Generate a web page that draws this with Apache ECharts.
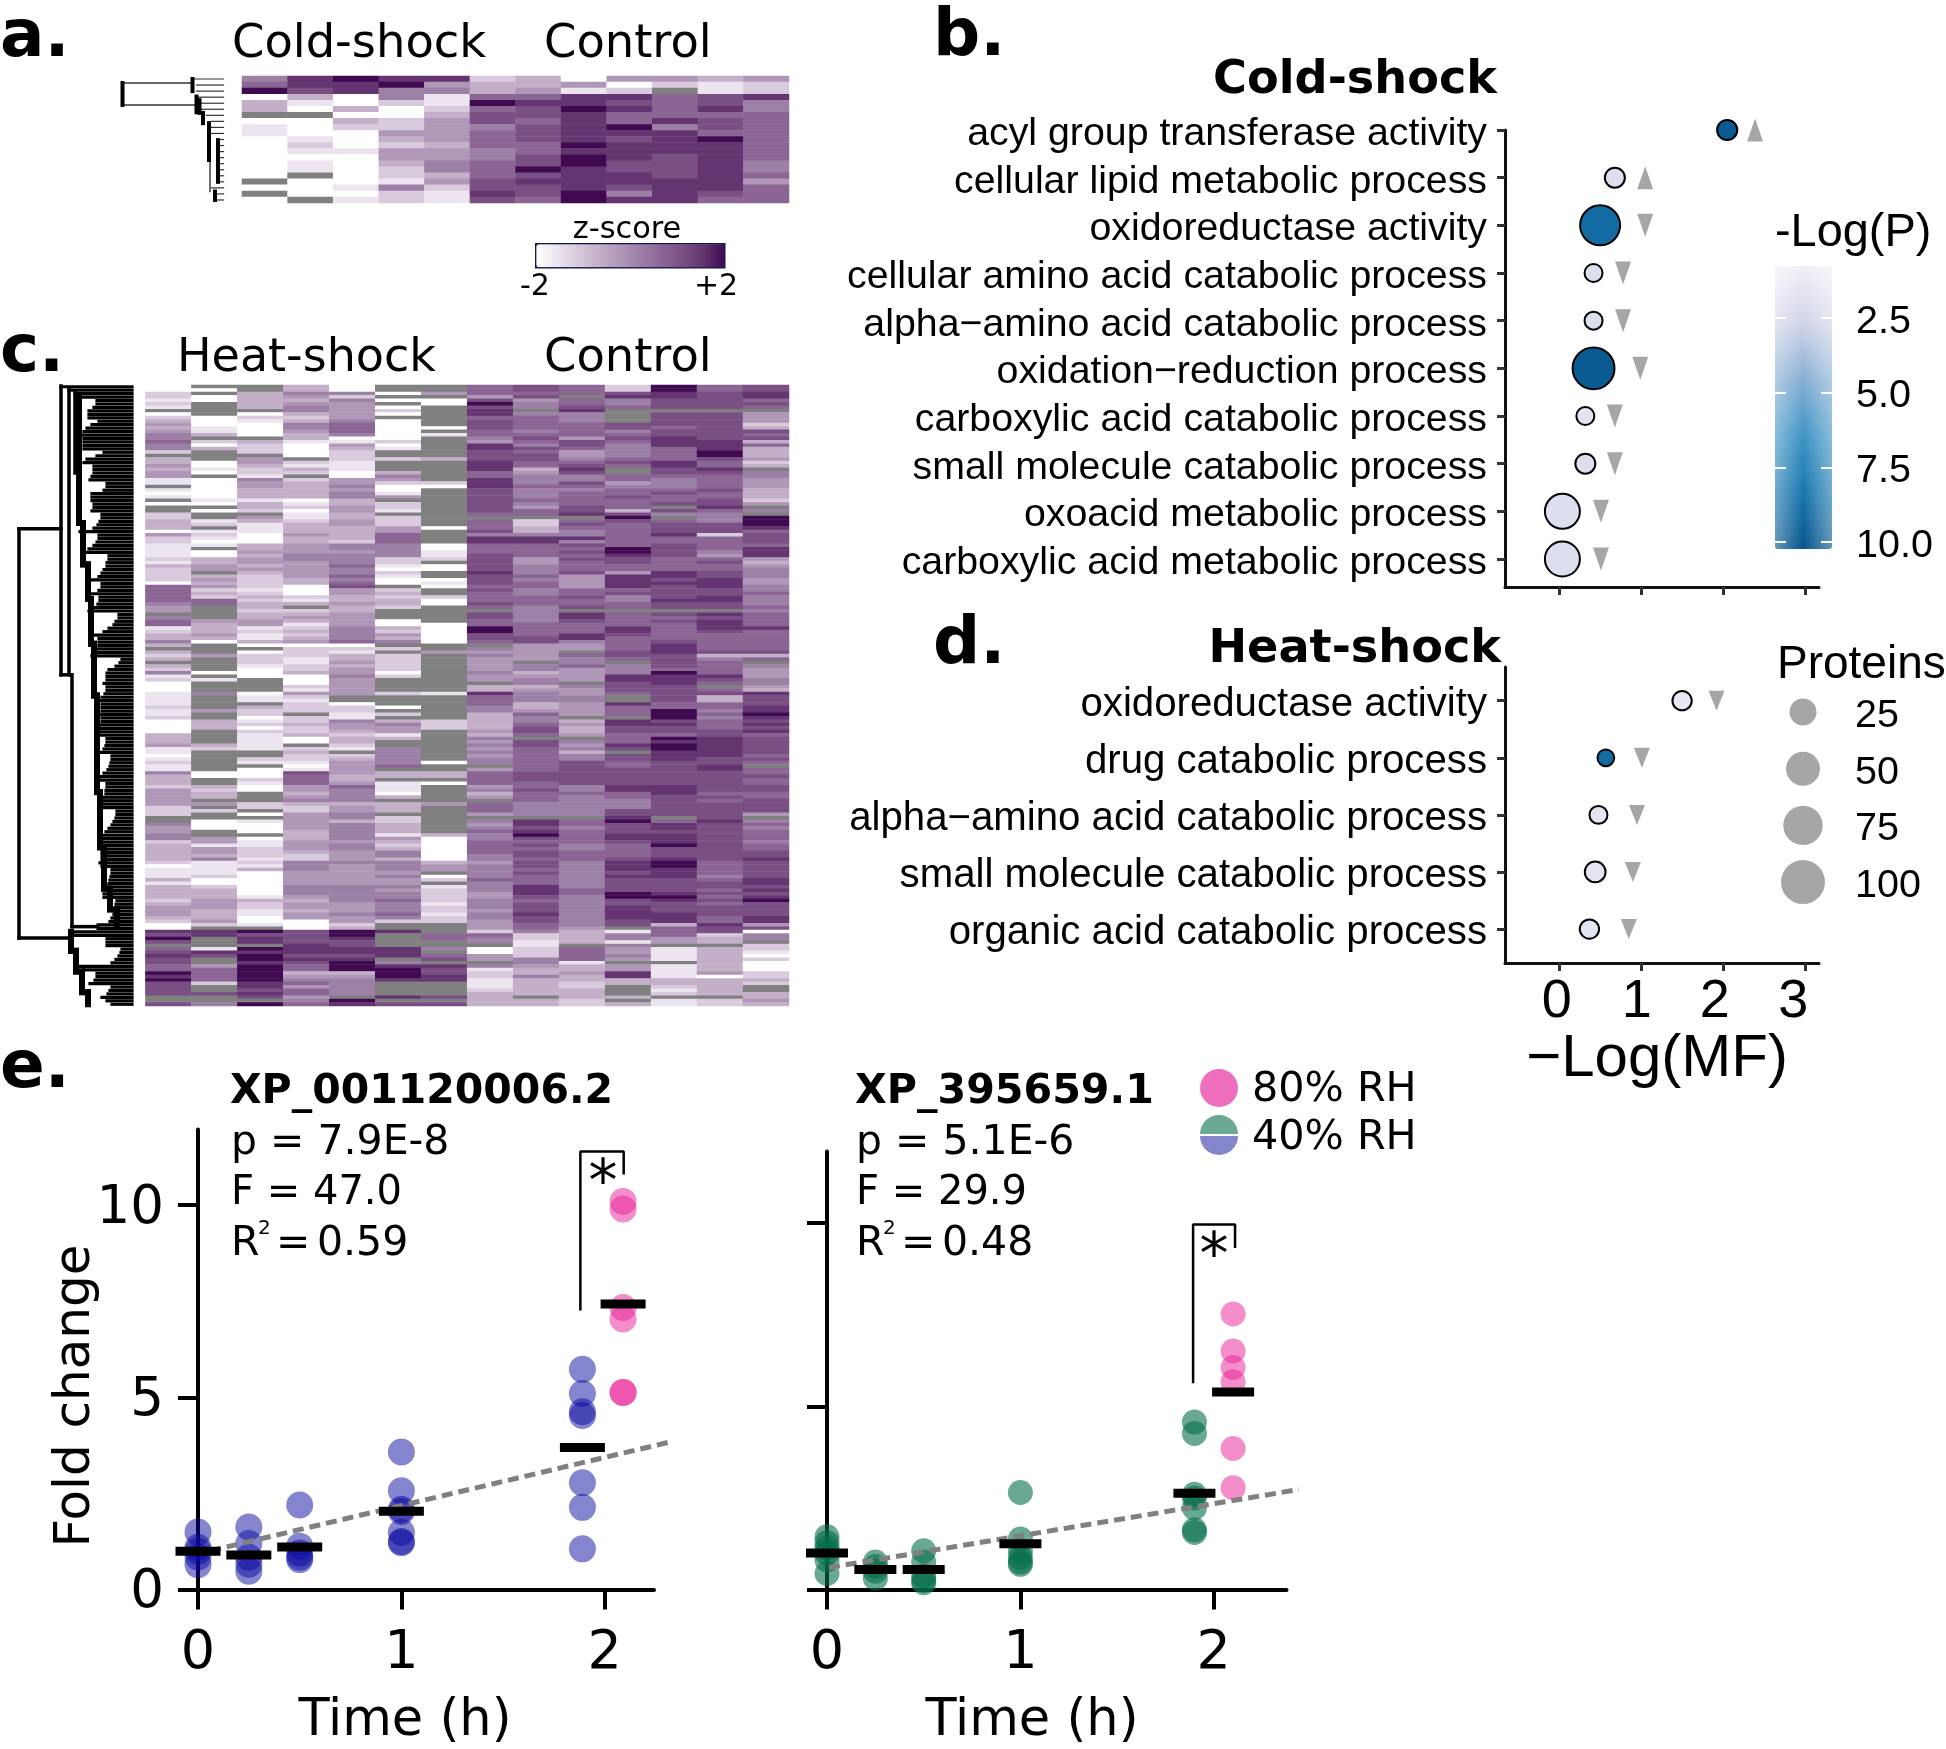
<!DOCTYPE html>
<html><head><meta charset="utf-8">
<script src="https://cdn.jsdelivr.net/npm/echarts@6/dist/echarts.min.js"></script>
<style>html,body{margin:0;padding:0;background:#fff}#c{width:1946px;height:1749px}</style></head>
<body><div id="c"></div>
<script>
// Heatmap levels: 0 = z -2 ... 9 = z +2, '.' = missing
const heatARows = [
"589882304434",
"688943340212",
"978553412.12",
"030516688678",
"310219887675",
"303026798685",
"..0037786666",
"003247686876",
"102245789576",
"100446788866",
"010346787896",
"020236698886",
"011445688886",
"000445798786",
"010356797785",
"010256987785",
"0.0236788786",
".00147888884",
"001527787886",
".00218795876",
"0.1217698866"];
const heatC = [
["00221 21.02 34345 56552 .3343 4411. 101.0 ..223 33042","21111 21322 22066 66654 4.566 12335 3.323 .3251 20001","11121 12000 03334 11012 11533 32444 44222 ..544 55233","33320 11131 33332 34443 20087 97.67 87766 98977 77..7"],
[".0.00 ....0 00113 .203. ..001 0.000 00010 .0..1 2.121","01.00 3344. 34342 3266. ...43 33430 ...4. ...0. 1...5","....4 ..333 ....3 2.... ..00. .3233 .4.2. .000. .4414","43511 11200 23334 44333 42.88 ...18 7..46 6662. .7..5"],
["..333 33.02 10000 .3222 .4432 21544 33313 32.43 11100","03343 44343 22221 23233 23344 12113 0.022 21000 ....0","11.32 20120 21111 1..21 .0002 100.. .22.0 .1000 .0112","22121 30000 00013 22110 01.97 88.98 99899 99988 787.9"],
["33543 45532 35543 31000 0.213 2.233 33301 20112 33343","34445 54444 43300 0213. 23431 23234 02221 12230 00214","21222 .2232 2300. 23221 01766 64434 53224 44443 33444","32255 54444 55543 44344 00077 77888 78766 34564 66456"],
["00525 44444 56665 01432 22111 00445 45533 44334 43333","25545 55655 65674 43343 34444 55556 02133 43445 44444","..022 11544 32332 1.234 44433 46555 53445 53555 55455","44454 44444 55555 44454 42399 87788 78999 34555 55.98"],
["..0.0 .020. 00000 0201. .2... 35420 014.2 21.22 24466","65555 22102 100.2 32332 ...00 32435 .2.22 22202 ....2","...0. 2.354 413.. 55555 6.33. 11103 .333. 22333 14323","55355 54544 54556 55565 2..8. ...88 8.589 998.. ..8.7"],
["..4.0 0.... ..0.1 ..... .3... ...20 ..... ..... .0...",".0011 2.00. .010. .200. ....0 00000 ..4.. ..... ....1","..... ..222 ..... ....0 ..33. 0.... .4... ..... 30000","00034 4.02. 12222 12212 2...6 6..5. 67.87 788.. ..7.7"],
["66647 97886 77766 54887 77888 66888 77777 776.6 66758","86667 77778 77767 66676 .7766 99776 .5454 44454 4.338","66655 33333 43545 45455 .4666 64534 .6664 .5456 55666","65545 55565 55445 55455 44426 55.00 44.51 22111 23333"],
["77674 55.56 66656 76576 77663 45556 55565 466.2 23358","86666 44555 65665 56665 55556 66677 44444 .5534 55345","55334 65567 76.77 66666 66777 66766 65555 .8878 97676","77677 67666 88876 77787 76652 21122 25543 35333 33.33"],
["666.6 67855 56666 47764 45678 75576 56666 778.6 76558","57676 76667 44446 67667 .8876 66885 44.65 56444 4.544","55444 4.343 34.54 53557 77777 75565 55555 .6656 66655","66655 55555 56655 55555 55433 33.66 66133 43322 33322"],
["22785 56... .7756 76555 5676. .6645 66766 63797 66666","66998 77664 88886 75566 .6666 88766 66776 .5558 87776","..866 6.887 76668 7.776 67777 78866 55577 89777 88766","66788 87877 77997 78888 77.15 51544 54.44 8833. ..3.3"],
["99887 77.77 77677 88866 66887 76555 67667 .75.6 77786","67777 66668 87877 77877 .7676 66667 88877 77698 88777","77669 99787 76989 98887 77777 78887 77777 .6887 88897","77899 88877 77898 77788 83666 44.11 11.11 11332 12.11"],
["66777 77.77 77777 78889 97668 76666 76677 86555 77726","66654 67667 78887 78877 .8788 87666 66735 66668 76.67","33665 65666 77888 88877 88777 77767 67777 78777 77777","77766 66567 76767 67776 68772 33.33 33333 40333 33.22"],
["77886 76.44 42376 73633 3423. 55444 33324 .5.99 98677","76888 43455 54455 65556 56666 86666 66736 .5444 55438","77788 98787 86777 77676 .6676 67766 77774 .5656 66566","77877 77788 78789 77778 84705 5.221 02000 2232. .3343"]
];
const heatPalette = ['#ffffff','#ece4ee','#d9cbdd','#c4afc9','#b097b8','#9d80a6','#8b6695','#7a5084','#643570','#400a50'];
// Dendrogram leaf heights (distance at which each row joins)
const leafA = [30,27,27,27,24.5,22,17,12,12,12,7,7,7,7,7,7,4,4,12,9,7];
const leafC = [71,63,57,53,35,35,38,43,43,43,33,40,45,48,53,48,48,48,48,28,35,45,48,38,38,38,40,42,25,25,28,40,40,40,38,38,40,30,30,32,34,38,52,33,33,35,38,43,50,23,23,25,25,28,30,33,45,30,30,33,43,32,32,34,38,43,13,13,16,18,23,28,40,33,33,33,35,38,40,10,12,16,23,25,25,25,28,25,25,27,30,35,30,30,30,33,30,30,32,34,35,35,25,25,26,28,32,20,20,21,22,24,28,33,34,25,25,26,26,28,28,30,33,15,15,16,18,20,23,26,32,32,30,30,30,30,30,30,32,30,20,20,21,22,23,24,26,28,28,15,16,16,18,18,20,22,34,34,60,58,25,25,25,10,11,13,16,20,52,48,35,35,37,42,20,22,24,30,25,20];
const treeAThin = [[101,1.16,31,1.16],[101,4.8,27,4.8],[13.5,13.9,13.5,19.1]];
const treeAThick = [[101,1.16,101,4.8],[31,0.5,31,2.5],[27,3.4,27,6],[24,4,24,6.1],[20.5,6.1,20.5,7.8],[14.5,7.8,14.5,13.9],[5.5,10.6,5.5,17.5],[8.5,19.1,8.5,20.5]];
const treeC = [[113,41.7,113,160.3],[113,41.7,71,41.7],[113,160.3,61,160.3],[71,0.3,71,84],[71,84,63,84],[63,1.2,63,84],[60,84,60,157],[60,157,34,157],[57,2.3,57,25.5]];
const treeCSpine = [[53,3,53,40],[53,40,49,40],[49,40,49,52],[49,52,44,52],[44,52,44,62],[44,62,41,62],[41,62,41,75],[41,75,38,75],[38,75,38,90],[38,90,35,90],[35,90,35,118],[35,118,32,118],[32,118,32,134],[32,134,28,134],[28,134,28,146],[28,146,22,146],[22,146,22,152],[22,152,15,152],[15,152,15,157],[61,158.5,61,164],[61,164,56,164],[56,164,56,170],[56,170,50,170],[50,170,50,176],[50,176,44,176],[44,176,44,179.5]];

const catsB = ["acyl group transferase activity","cellular lipid metabolic process","oxidoreductase activity","cellular amino acid catabolic process","alpha\u2212amino acid catabolic process","oxidation\u2212reduction process","carboxylic acid catabolic process","small molecule catabolic process","oxoacid metabolic process","carboxylic acid metabolic process"];
const mfB = [2.05,0.68,0.5,0.42,0.42,0.42,0.32,0.32,0.04,0.04];
const logPB = [9.9,2,9,1.9,1.9,9.9,1.6,2,2,2];
const proteinsB = [9,8.6,78,5.5,5.5,88,5.5,8.6,54,54];
const triB = [2.39,1.05,1.05,0.78,0.78,0.99,0.68,0.68,0.51,0.51];
const triUpB = [true,true,false,false,false,false,false,false,false,false];
const catsD = ["oxidoreductase activity","drug catabolic process","alpha\u2212amino acid catabolic process","small molecule catabolic process","organic acid catabolic process"];
const mfD = [1.5,0.57,0.48,0.44,0.37];
const logPD = [1.3,9,1.5,1.6,1.6];
const proteinsD = [7.5,4,5.5,10,7.5];
const triD = [1.92,1.01,0.95,0.9,0.85];
const sizeLegend = [25,50,75,100];

const blueE = [[0,1.5],[0,1.1],[0,1.0],[0,0.85],[0,0.65],[0.25,1.63],[0.25,1.2],[0.25,0.84],[0.25,0.66],[0.25,0.48],[0.5,2.2],[0.5,1.13],[0.5,0.95],[0.5,0.84],[0.5,0.78],[1,3.58],[1,2.57],[1,2.09],[1,2.03],[1,1.49],[1,1.25],[1,1.22],[1.89,5.73],[1.89,5.1],[1.89,4.63],[1.89,4.53],[1.89,2.78],[1.89,2.14],[1.89,1.06]];
const pinkL = [[2.09,10.1],[2.09,9.9],[2.09,7.34],[2.09,7.04],[2.09,5.13],[2.09,5.13]];
const meansL = [[0,1.0],[0.25,0.9],[0.5,1.11],[1,2.04],[1.89,3.7],[2.09,7.43]];
const fitL = [[0.06,1.01,2.32,3.84]];
const bracketL = [[1.88,7.26],[1.88,11.4],[2.093,11.4],[2.093,10.8]];
const greenE = [[0,1.44],[0,1.28],[0,1.13],[0,1.0],[0,0.81],[0,0.44],[0.25,0.75],[0.25,0.63],[0.25,0.5],[0.25,0.31],[0.5,1.06],[0.5,0.75],[0.5,0.38],[0.5,0.25],[0.5,0.19],[1,2.65],[1,1.38],[1,1.06],[1,0.88],[1,0.75],[1,0.69],[1.9,4.57],[1.9,4.26],[1.9,2.6],[1.9,2.5],[1.9,2.23],[1.9,1.63],[1.9,1.56]];
const pinkR = [[2.1,7.52],[2.1,6.51],[2.1,6.06],[2.1,5.67],[2.1,3.85],[2.1,2.78]];
const meansR = [[0,1.0],[0.25,0.55],[0.5,0.55],[1,1.25],[1.9,2.63],[2.1,5.39]];
const fitR = [[0.01,0.6,2.44,2.73]];
const bracketR = [[1.893,5.63],[1.893,9.96],[2.11,9.96],[2.11,9.32]];

const DJ = '"DejaVu Sans"', LB = '"Liberation Sans"';
const lvl = ch => ch === '.' ? -3 : -1.995 + (+ch) * 3.995 / 9;   // -3 = missing, outside the scale range

const dataA = [];
heatARows.forEach((row, r) => row.split('').forEach((ch, c) => dataA.push([c, r, lvl(ch)])));
const dataC = [];
heatC.forEach((parts, c) => parts.join('').replace(/ /g, '').split('').forEach((ch, r) => dataC.push([c, r, lvl(ch)])));

function seg(gi, segs, width, color, dash, z) {
  return { type: 'custom', xAxisIndex: gi, yAxisIndex: gi, data: segs, encode: { x: [0, 2], y: [1, 3] }, silent: true, clip: false, z: z || 2,
    renderItem: (p, api) => { const a = api.coord([api.value(0), api.value(1)]), b = api.coord([api.value(2), api.value(3)]);
      return { type: 'line', shape: { x1: a[0], y1: a[1], x2: b[0], y2: b[1] }, style: { stroke: color, lineWidth: width, lineCap: dash ? 'butt' : 'square', lineDash: dash || null } }; } };
}
const hide = { axisLine: { show: false }, axisTick: { show: false }, axisLabel: { show: false }, splitLine: { show: false } };
const rng = n => Array.from({ length: n }, (_, i) => i);
// Axis label shifted a little downward, as the reference's text sits below its tick
const low = (fmt, family, size, margin, extra) => ({ show: true, margin, formatter: v => '{a|' + fmt(v) + '}',
  rich: { a: { fontFamily: family, fontSize: size, color: '#000', padding: [8, 0, 0, 0] } }, ...(extra || {}) });

const grids = [
  { left: 122, top: 76, width: 101.5, height: 127 },
  { left: 242, top: 76, width: 547, height: 127 },
  { left: 18, top: 385, width: 114, height: 621 },
  { left: 145.4, top: 385, width: 643.6, height: 621 },
  { left: 1505, top: 130, width: 314, height: 457 },
  { left: 1505, top: 667, width: 314, height: 296 },
  { left: 1775, top: 266, width: 57, height: 283 },
  { left: 1781, top: 683.7, width: 44, height: 226.7 },
  { left: 198, top: 1129.5, width: 456, height: 460.1 },
  { left: 827, top: 1151.6, width: 459.5, height: 438 }
];
const axStyle = { lineStyle: { color: '#111', width: 3 } };
const tickB = { show: true, length: 8, lineStyle: { color: '#333', width: 3 } };
const xMF = (gi, lab) => ({ gridIndex: gi, type: 'value', min: -0.66, max: 3.17, splitLine: { show: false }, axisLine: { show: true, onZero: false, ...axStyle },
  axisTick: { ...tickB, customValues: [0, 1, 2, 3] }, axisLabel: lab ? { show: true, customValues: [-0.028, 0.948, 1.9, 2.857], formatter: v => String(Math.round(v)), fontFamily: LB, fontSize: 54, color: '#000', margin: 12 } : { show: false } });
const yCat = (gi, min, max, cats, size) => ({ gridIndex: gi, type: 'value', inverse: true, min, max, splitLine: { show: false }, axisLine: { show: true, onZero: false, ...axStyle },
  axisTick: { ...tickB, customValues: cats.map((_, i) => i + 1) },
  axisLabel: low(v => cats[v - 1] || '', LB, size, 18, { customValues: cats.map((_, i) => i + 1) }) });
const eTick = { show: true, length: 20, lineStyle: { color: '#000', width: 4 } };
const xE = (gi, max) => ({ gridIndex: gi, type: 'value', min: 0, max, splitLine: { show: false }, axisLine: { show: true, onZero: false, lineStyle: { color: '#000', width: 4 } },
  axisTick: { ...eTick, customValues: [0, 1, 2] }, axisLabel: { show: true, customValues: [0, 1, 2], fontFamily: DJ, fontSize: 54, color: '#000', margin: 37 } });
const yE = (gi, max, lab) => ({ gridIndex: gi, type: 'value', min: 0, max, splitLine: { show: false }, axisLine: { show: true, onZero: false, lineStyle: { color: '#000', width: 4 } },
  axisTick: { ...eTick, customValues: [0, 5, 10] }, axisLabel: lab ? low(v => String(v), DJ, 53, 34, { customValues: [0, 5, 10] }) : { show: false } });
const xAxes = [
  { gridIndex: 0, type: 'value', inverse: true, min: 0, max: 101.5, ...hide },
  { gridIndex: 1, type: 'category', data: rng(12), ...hide },
  { gridIndex: 2, type: 'value', inverse: true, min: 0, max: 114, ...hide },
  { gridIndex: 3, type: 'category', data: rng(14), ...hide },
  xMF(4, false), xMF(5, true),
  { gridIndex: 6, type: 'value', min: 0, max: 1, ...hide },
  { gridIndex: 7, type: 'value', min: 0, max: 1, ...hide },
  xE(8, 2.242), xE(9, 2.376)
];
const cbTick = { show: true, inside: true, length: 11, customValues: [2.5, 5, 7.5, 10], lineStyle: { color: '#fff', width: 2 } };
const yAxes = [
  { gridIndex: 0, type: 'value', inverse: true, min: 0, max: 21, ...hide },
  { gridIndex: 1, type: 'category', inverse: true, data: rng(21), ...hide },
  { gridIndex: 2, type: 'value', inverse: true, min: 0, max: 180, ...hide },
  { gridIndex: 3, type: 'category', inverse: true, data: rng(180), ...hide },
  yCat(4, 1, 10.587, catsB, 39.3), yCat(5, 0.41, 5.594, catsD, 40.2),
  { gridIndex: 6, type: 'value', inverse: true, min: 0.77, max: 10.23, position: 'left', z: 9, splitLine: { show: false }, axisLine: { show: false }, axisLabel: { show: false }, axisTick: cbTick },
  { gridIndex: 7, type: 'category', inverse: true, position: 'right', data: sizeLegend, splitLine: { show: false }, axisLine: { show: false }, axisTick: { show: false },
    axisLabel: low(v => String(v), LB, 39.5, 30) },
  yE(8, 11.97, true), yE(9, 11.95, false),
  { gridIndex: 6, type: 'value', inverse: true, min: 0.77, max: 10.23, position: 'right', z: 9, splitLine: { show: false }, axisLine: { show: false }, axisTick: cbTick,
    axisLabel: low(v => v.toFixed(1), LB, 39.5, 24, { customValues: [2.5, 5, 7.5, 10] }) }
];

const bubble = (gi, rows) => ({ type: 'scatter', xAxisIndex: gi, yAxisIndex: gi, clip: false, data: rows, symbolSize: v => 10 + 3.4 * Math.sqrt(v[3]),
  itemStyle: { opacity: 1, borderColor: '#000', borderWidth: 2 }, encode: { x: 0, y: 1 }, z: 3 });
const tri = (gi, rows, rot, size) => ({ type: 'scatter', xAxisIndex: gi, yAxisIndex: gi, clip: false, data: rows, symbol: 'triangle', symbolRotate: rot, symbolSize: size,
  itemStyle: { color: '#a6a6a6', opacity: 1 }, z: 3 });
const dots = (gi, rows, color, size) => ({ type: 'scatter', xAxisIndex: gi, yAxisIndex: gi, clip: false, data: rows, symbolSize: size, itemStyle: { color, opacity: 1 }, z: 3 });
const means = (gi, rows, w) => ({ type: 'scatter', xAxisIndex: gi, yAxisIndex: gi, clip: false, data: rows, symbol: 'rect', symbolSize: w, itemStyle: { color: '#000', opacity: 1 }, z: 6 });
const bracket = (gi, rows) => ({ type: 'line', xAxisIndex: gi, yAxisIndex: gi, clip: false, data: rows, showSymbol: false, lineStyle: { color: '#000', width: 2.5 }, z: 5 });

const series = [
  { type: 'heatmap', xAxisIndex: 1, yAxisIndex: 1, data: dataA, itemStyle: { borderWidth: 0 }, progressive: 0 },
  { type: 'heatmap', xAxisIndex: 3, yAxisIndex: 3, data: dataC, itemStyle: { borderWidth: 0 }, progressive: 0 },
  bubble(4, mfB.map((m, i) => [m, i + 1, logPB[i], proteinsB[i]])),
  bubble(5, mfD.map((m, i) => [m, i + 1, logPD[i], proteinsD[i]])),
  seg(0, leafA.map((d, r) => [d, r + 0.5, 0, r + 0.5]), 1.2, '#333'),
  seg(0, treeAThin, 1.4, '#333'),
  seg(0, treeAThick, 4, '#000'),
  seg(2, leafC.map((d, r) => [d, r + 0.5, 0, r + 0.5]), 3.2, '#000'),
  seg(2, treeC, 3.5, '#000'),
  seg(2, treeCSpine, 6, '#000'),
  tri(4, triB.map((m, i) => [m, i + 1]).filter((_, i) => triUpB[i]), 0, [16, 23]),
  tri(4, triB.map((m, i) => [m, i + 1]).filter((_, i) => !triUpB[i]), 180, [16, 23]),
  tri(5, triD.map((m, i) => [m, i + 1]), 180, [16, 20]),
  { type: 'scatter', xAxisIndex: 7, yAxisIndex: 7, clip: false, data: sizeLegend.map((p, i) => [0.5, i, p]), symbolSize: v => 10 + 3.4 * Math.sqrt(v[2]), itemStyle: { color: '#a6a6a6', opacity: 1 } },
  dots(8, blueE, 'rgba(10,10,160,0.5)', 27),
  dots(8, pinkL, 'rgba(233,30,150,0.5)', 27),
  seg(8, fitL, 5, '#808080', [11, 6], 5), means(8, meansL, [45, 9]), bracket(8, bracketL),
  dots(9, greenE, 'rgba(5,110,75,0.6)', 25),
  dots(9, pinkR, 'rgba(233,30,150,0.5)', 25),
  seg(9, fitR, 5, '#808080', [11, 6], 5), means(9, meansR, [42, 9]), bracket(9, bracketR)
];

const T = (text, x, base, size, o = {}) => ({ type: 'text', z: 20, x: 0, y: 0, rotation: 0, silent: true,
  style: { text, x, y: base - 0.25 * size, fill: '#000', textAlign: o.align || 'left', textVerticalAlign: 'middle', font: (o.bold ? 'bold ' : '') + size + 'px ' + (o.font || DJ) } });
const texts = [
  T('a.', 0, 55, 66, { bold: 1 }), T('b.', 933, 54, 66, { bold: 1 }), T('c.', 0, 370, 66, { bold: 1 }), T('d.', 933, 662, 66, { bold: 1 }), T('e.', 0, 1086, 66, { bold: 1 }),
  T('Cold-shock', 232, 57, 46.4), T('Control', 544, 57, 46.4), T('Heat-shock', 177, 371, 46), T('Control', 544, 371, 46.4),
  T('z-score', 627, 238, 30.4, { align: 'center' }), T('-2', 535, 295, 30, { align: 'center' }), T('+2', 716, 295, 30, { align: 'center' }),
  T('Cold-shock', 1497, 93, 46.2, { bold: 1, align: 'right' }), T('Heat-shock', 1501, 662, 46.2, { bold: 1, align: 'right' }),
  T('-Log(P)', 1775, 245, 46.9, { font: LB }), T('Proteins', 1777, 677, 46, { font: LB }),
  T('\u2212Log(MF)', 1657, 1074, 60, { font: LB, align: 'center' }),
  T('XP_001120006.2', 230, 1103, 41, { bold: 1 }), T('p = 7.9E-8', 231, 1154, 41), T('F = 47.0', 231, 1204, 40), 
  T('R', 231, 1255, 41), T('2', 258, 1234, 20), T('=', 276, 1255, 41), T('0.59', 317, 1255, 41),
  T('XP_395659.1', 855, 1103, 41.2, { bold: 1 }), T('p = 5.1E-6', 856, 1154, 41), T('F = 29.9', 856, 1204, 40),
  T('R', 856, 1255, 41), T('2', 883, 1234, 20), T('=', 901, 1255, 41), T('0.48', 942, 1255, 41),
  T('80% RH', 1252, 1101, 41.3), T('40% RH', 1252, 1149, 41.3),
  T('*', 603, 1200, 58, { align: 'center' }), T('*', 1214, 1273, 58, { align: 'center' }),
  T('Time (h)', 405, 1734, 51, { align: 'center' }), T('Time (h)', 1032, 1734, 51, { align: 'center' }),
  { type: 'text', z: 20, silent: true, x: 76, y: 1396, rotation: Math.PI / 2, style: { text: 'Fold change', x: 0, y: 0, fill: '#000', textAlign: 'center', textVerticalAlign: 'middle', font: '50px ' + DJ } },
  { type: 'circle', z: 20, silent: true, shape: { cx: 1219, cy: 1088, r: 19 }, style: { fill: '#f06fbd' } },
  { type: 'sector', z: 20, silent: true, shape: { cx: 1219, cy: 1134, r: 19, r0: 0, startAngle: Math.PI, endAngle: 2 * Math.PI }, style: { fill: '#6ba994' } },
  { type: 'sector', z: 20, silent: true, shape: { cx: 1219, cy: 1136, r: 19, r0: 0, startAngle: 0, endAngle: Math.PI }, style: { fill: '#8585cc' } },
  { type: 'rect', z: 8, silent: true, shape: { x: 1775, y: 266, width: 57, height: 283 }, style: { fill: { type: 'linear', x: 0, y: 0, x2: 1, y2: 0, colorStops: [{ offset: 0, color: 'rgba(255,255,255,0.38)' }, { offset: 0.5, color: 'rgba(255,255,255,0)' }, { offset: 1, color: 'rgba(255,255,255,0.38)' }] } } }
];

const chart = echarts.init(document.getElementById('c'), null, { renderer: 'canvas' });
chart.setOption({
  animation: false, backgroundColor: '#fff', tooltip: { show: false },
  grid: grids, xAxis: xAxes, yAxis: yAxes, series, graphic: { elements: texts },
  visualMap: [
    { type: 'continuous', seriesIndex: [0, 1], dimension: 2, min: -2, max: 2, range: [-1.999, 2], orient: 'horizontal', left: 535, top: 243, itemWidth: 23, itemHeight: 188, padding: 0,
      calculable: false, text: null, hoverLink: false, borderColor: '#14145a', borderWidth: 2.5, inRange: { color: heatPalette }, outOfRange: { color: '#808080' } },
    { type: 'continuous', seriesIndex: [2, 3], dimension: 2, min: 0.77, max: 10.23, orient: 'vertical', inverse: true, left: 1775, top: 266, itemWidth: 57, itemHeight: 283, padding: 0,
      calculable: false, text: null, hoverLink: false, inRange: { color: ['#f1f0f8', '#d2d4e8', '#86aed3', '#3f94c4', '#1877ae', '#07558c'] } }
  ]
});
</script></body></html>
